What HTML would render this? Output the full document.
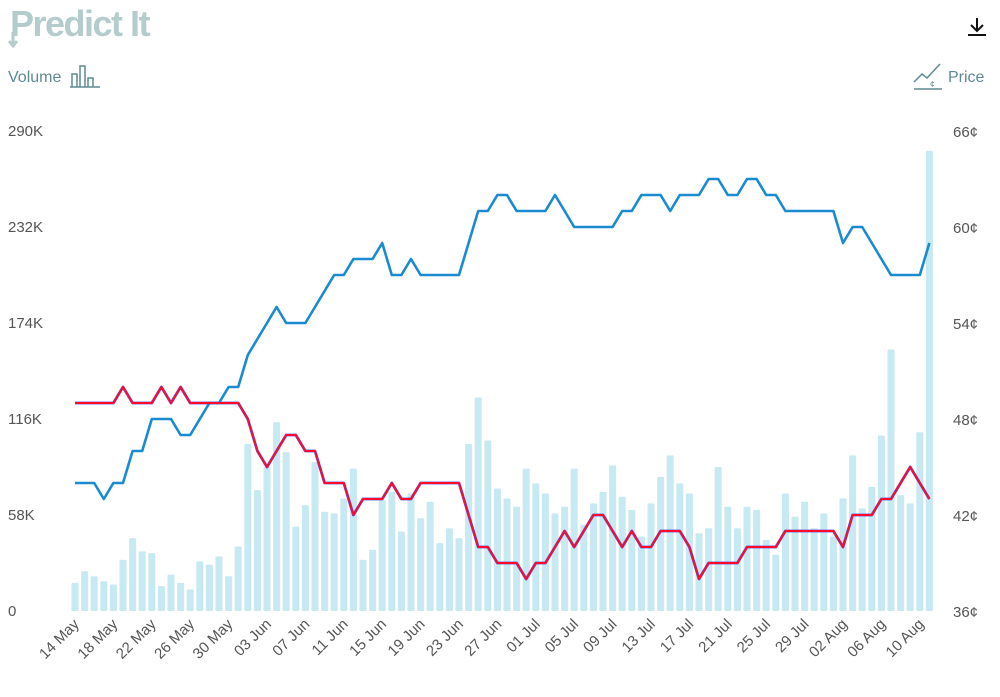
<!DOCTYPE html>
<html><head><meta charset="utf-8">
<style>
body{margin:0;background:#fff;font-family:"Liberation Sans",sans-serif;}
svg text{font-family:"Liberation Sans",sans-serif;}
</style></head>
<body>
<svg id="chart" width="1000" height="692" viewBox="0 0 1000 692">
  <g>
    <text x="10" y="36" font-size="36" font-weight="bold" fill="#b5cccc" letter-spacing="-1.5">Predict It</text>
    <path d="M13 32 L13 45 M9 41 L13 46 L17 41" stroke="#b5cccc" stroke-width="3" fill="none"/>
  </g>
  <g>
    <path d="M977 18 L977 31 M971 25 L977 31 L983 25 M968 35 L986 35" stroke="#111" stroke-width="2" fill="none"/>
  </g>
  <g>
    <text x="8" y="82" font-size="16" fill="#5e8a94">Volume</text>
    <path d="M72 87 L72 74 L77 74 L77 87 M80 87 L80 66 L85 66 L85 87 M88 87 L88 78 L93 78 L93 87 M70 87 L100 87" stroke="#5e8a94" stroke-width="1.5" fill="none"/>
  </g>
  <g>
    <path d="M914 82 L922 74 L927 78 L940 64 M914 89 L942 89" stroke="#5e8a94" stroke-width="1.5" fill="none"/>
    <text x="930" y="87" font-size="8" fill="#5e8a94">¢</text>
    <text x="948" y="82" font-size="16" fill="#5e8a94">Price</text>
  </g>
  <g id="bars"></g>
  <g id="lines"></g>
  <g id="axes"></g>
</svg>
<script>
const dates = ["14 May","18 May","22 May","26 May","30 May","03 Jun","07 Jun","11 Jun","15 Jun","19 Jun","23 Jun","27 Jun","01 Jul","05 Jul","09 Jul","13 Jul","17 Jul","21 Jul","25 Jul","29 Jul","02 Aug","06 Aug","10 Aug"];
const volumeK = [17,24,21,18,16,31,44,36,35,15,22,17,13,30,28,33,21,39,101,73,87,114,96,51,64,90,60,59,68,86,31,37,
67,72,48,71,56,66,41,50,44,101,129,103,74,68,63,86,77,71,59,63,86,52,65,72,88,69,61,45,65,81,94,77,
71,47,50,87,63,50,63,61,43,34,71,57,66,50,59,45,68,94,62,75,106,158,70,65,108,278];
const priceBlue = [44,44,44,43,44,44,46,46,48,48,48,47,47,48,49,49,50,50,52,53,54,55,54,54,54,55,56,57,57,58,58,58,
59,57,57,58,57,57,57,57,57,59,61,61,62,62,61,61,61,61,62,61,60,60,60,60,60,61,61,62,62,62,61,62,
62,62,63,63,62,62,63,63,62,62,61,61,61,61,61,61,59,60,60,59,58,57,57,57,57,59];
const priceRed = [49,49,49,49,49,50,49,49,49,50,49,50,49,49,49,49,49,49,48,46,45,46,47,47,46,46,44,44,44,42,43,43,
43,44,43,43,44,44,44,44,44,42,40,40,39,39,39,38,39,39,40,41,40,41,42,42,41,40,41,40,40,41,41,41,
40,38,39,39,39,39,40,40,40,40,41,41,41,41,41,41,40,42,42,42,43,43,44,45,44,43];
const volTicks = ["0","58K","116K","174K","232K","290K"];
const priceTicks = ["36¢","42¢","48¢","54¢","60¢","66¢"];

const NS="http://www.w3.org/2000/svg";
const x0=75, step=9.6, yBase=611, yTop=131;
const xAt = i => x0 + i*step;
const yVol = v => yBase - v/290*(yBase-yTop);
const yPrice = p => yBase - (p-36)/30*(yBase-yTop);
function mk(tag, attrs, parent){const e=document.createElementNS(NS,tag);for(const k in attrs)e.setAttribute(k,attrs[k]);parent.appendChild(e);return e;}

const bars=document.getElementById('bars');
volumeK.forEach((v,i)=>{
  const r=mk('rect',{x:xAt(i)-3.5,y:yVol(v),width:7,height:yBase-yVol(v),fill:'#c7eaf2',rx:1},bars);
  
  
});

const lines=document.getElementById('lines');
const ptsB=priceBlue.map((p,i)=>xAt(i)+','+yPrice(p)).join(' ');
const lb=mk('polyline',{points:ptsB,fill:'none',stroke:'#1a8bd0','stroke-width':2.6,'stroke-linejoin':'round'},lines);


const ptsR=priceRed.map((p,i)=>xAt(i)+','+yPrice(p)).join(' ');
const lru=mk('polyline',{points:ptsR,fill:'none',stroke:'#5a48d8','stroke-width':2.8,'stroke-linejoin':'round'},lines);


const lr=mk('polyline',{points:ptsR,fill:'none',stroke:'#ff0a2a','stroke-width':1.9,'stroke-linejoin':'round'},lines);



const axes=document.getElementById('axes');
volTicks.forEach((t,i)=>{
  const y=yBase-i*(yBase-yTop)/(volTicks.length-1);
  const e=mk('text',{x:8,y:y+5,'font-size':15,fill:'#555'},axes);
  e.textContent=t;
  
  
});
priceTicks.forEach((t,i)=>{
  const y=yBase-i*(yBase-yTop)/(priceTicks.length-1);
  const e=mk('text',{x:953,y:y+6,'font-size':15,fill:'#555'},axes);
  e.textContent=t;
  
  
});
dates.forEach((d,i)=>{
  const x=xAt(i*4)+5, y=625;
  const e=mk('text',{x:x,y:y,'font-size':15,fill:'#555','text-anchor':'end',transform:'rotate(-45 '+x+' '+y+')'},axes);
  e.textContent=d;
  
  
});
</script>
</body></html>
